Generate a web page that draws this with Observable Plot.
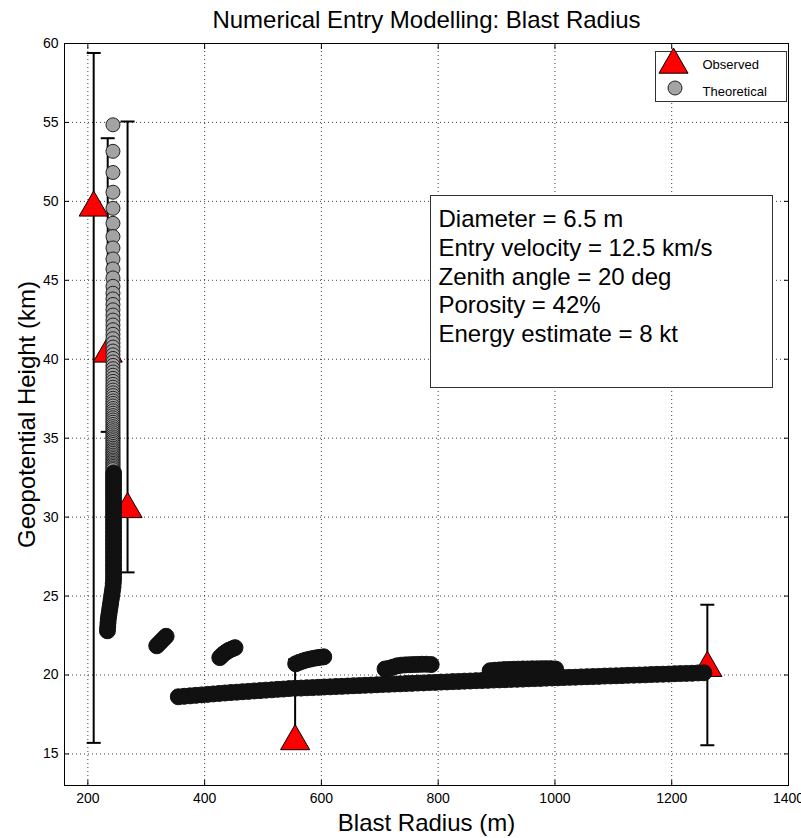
<!DOCTYPE html>
<html>
<head>
<meta charset="utf-8">
<script src="https://cdn.jsdelivr.net/npm/d3@7"></script>
<script src="https://cdn.jsdelivr.net/npm/@observablehq/plot@0.6"></script>
<style>
html, body { margin: 0; padding: 0; background: #fff; }
#chart svg { display: block; }
</style>
</head>
<body>
<div id="chart"></div>
<script>
// ---- texts & ticks ----
const titleText = "Numerical Entry Modelling: Blast Radius";
const xLabel = "Blast Radius (m)";
const yLabel = "Geopotential Height (km)";
const xTicks = [200, 400, 600, 800, 1000, 1200, 1400];
const yTicks = [15, 20, 25, 30, 35, 40, 45, 50, 55, 60];
const legendLabels = ["Observed", "Theoretical"];
const infoLines = [
  "Diameter = 6.5 m",
  "Entry velocity = 12.5 km/s",
  "Zenith angle = 20 deg",
  "Porosity = 42%",
  "Energy estimate = 8 kt"
];

// ---- observed (with asymmetric error bars) ----
const obsX  = [210, 234, 268, 555, 1261];
const obsY  = [49.6, 40.35, 30.5, 15.8, 20.44];
const obsLo = [15.7, 35.4, 26.5, 15.8, 15.55];
const obsHi = [59.4, 54.0, 55.06, 21.0, 24.45];

// ---- theoretical ----
// upper (sparse) part of the column, x = 243 m
const upperColumnX = 243;
const upperColumnY = [54.85, 53.17, 51.83, 50.58, 49.56, 48.61, 47.77, 47.05, 46.35, 45.72,
  45.15, 44.62, 44.18, 43.82, 43.47, 43.13, 42.80, 42.48, 42.17, 41.87, 41.58, 41.30, 41.03,
  40.77, 40.52, 40.28, 40.05, 39.83, 39.61, 39.40, 39.19, 38.99, 38.79, 38.60, 38.41, 38.23,
  38.05, 37.87, 37.70, 37.53, 37.36, 37.20, 37.04, 36.88, 36.73, 36.58, 36.43, 36.29, 36.15,
  36.01, 35.87, 35.73, 35.60, 35.47, 35.34, 35.21, 35.08, 34.96, 34.84, 34.72, 34.60, 34.48,
  34.37, 34.26, 34.15, 34.04, 33.93, 33.82, 33.71, 33.61, 33.51, 33.41, 33.31, 33.21, 33.11, 33.01];
// dense lower part of the column, x = 244 m
const lowerColumnX = 244;
const lowerColumnY = [32.8, 32.55, 32.3, 32.05, 31.8, 31.55, 31.3, 31.05, 30.8, 30.55, 30.3,
  30.05, 29.8, 29.55, 29.3, 29.05, 28.8, 28.55, 28.3, 28.05, 27.8, 27.55, 27.3, 27.05, 26.8,
  26.55, 26.3, 26.05];
const hookX = [243.5, 243, 242, 241, 240, 239, 238, 237, 236, 235, 234.5, 234, 233.5];
const hookY = [25.8, 25.55, 25.3, 25.05, 24.8, 24.55, 24.3, 24.05, 23.8, 23.55, 23.3, 23.05, 22.8];
// detached clusters
const clusterX = [318, 322, 326, 330, 334,
  426, 430, 434, 438, 442, 447, 452,
  556, 562, 568, 574, 580, 586, 592, 598, 604,
  709, 716, 723, 730, 737, 744, 751, 758, 765, 772, 780, 788,
  889, 897, 905, 913, 921, 929, 937, 945, 953, 961, 969, 977, 985, 993, 1001];
const clusterY = [21.85, 22.0, 22.15, 22.3, 22.45,
  21.1, 21.25, 21.38, 21.48, 21.57, 21.65, 21.73,
  20.71, 20.8, 20.88, 20.95, 21.0, 21.05, 21.09, 21.12, 21.15,
  20.38, 20.42, 20.5, 20.58, 20.62, 20.64, 20.65, 20.66, 20.67, 20.68, 20.68, 20.66,
  20.27, 20.3, 20.32, 20.34, 20.35, 20.36, 20.37, 20.38, 20.38, 20.39, 20.39, 20.4, 20.4, 20.4, 20.38];
// long low band
const bandX = [355, 365, 375, 385, 395, 405, 415, 425, 435, 445, 455, 465, 475, 485, 495, 505,
  515, 525, 535, 545, 555, 565, 575, 585, 595, 605, 615, 625, 635, 645, 655, 665, 675, 685, 695,
  705, 715, 725, 735, 745, 755, 765, 775, 785, 795, 805, 815, 825, 835, 845, 855, 865, 875, 885,
  895, 905, 915, 925, 935, 945, 955, 965, 975, 985, 995, 1005, 1015, 1025, 1035, 1045, 1055, 1065,
  1075, 1085, 1095, 1105, 1115, 1125, 1135, 1145, 1155, 1165, 1175, 1185, 1195, 1205, 1215, 1225,
  1235, 1245, 1255];
const bandY = [18.62, 18.65, 18.68, 18.71, 18.74, 18.77, 18.80, 18.83, 18.86, 18.89, 18.91, 18.94,
  18.96, 18.99, 19.01, 19.04, 19.06, 19.09, 19.11, 19.14, 19.16, 19.17, 19.19, 19.20, 19.22, 19.24,
  19.25, 19.27, 19.28, 19.30, 19.32, 19.33, 19.35, 19.36, 19.38, 19.40, 19.41, 19.43, 19.44, 19.46,
  19.47, 19.49, 19.50, 19.52, 19.53, 19.55, 19.56, 19.58, 19.59, 19.61, 19.62, 19.64, 19.65, 19.66,
  19.68, 19.69, 19.70, 19.72, 19.73, 19.74, 19.76, 19.77, 19.78, 19.80, 19.81, 19.82, 19.84, 19.85,
  19.86, 19.88, 19.89, 19.90, 19.91, 19.93, 19.94, 19.95, 19.96, 19.98, 19.99, 20.00, 20.01, 20.03,
  20.04, 20.05, 20.06, 20.08, 20.09, 20.10, 20.11, 20.13, 20.14];

// ---- build tables ----
const observed = obsX.map((x, i) => ({x, y: obsY[i], lo: obsLo[i], hi: obsHi[i]}));
const theoGray = upperColumnY.map(y => ({x: upperColumnX, y}));
const theoDark = [
  ...lowerColumnY.map(y => ({x: lowerColumnX, y})),
  ...hookX.map((x, i) => ({x, y: hookY[i]})),
  ...clusterX.map((x, i) => ({x, y: clusterY[i]})),
  ...bandX.map((x, i) => ({x, y: bandY[i]}))
];

const capSymbol = {
  draw(context, size) {
    const w = Math.sqrt(size / Math.PI);
    context.moveTo(-w, 0);
    context.lineTo(w, 0);
  }
};

const FONT = "'Liberation Sans', Arial, Helvetica, sans-serif";
const gridStyle = {stroke: "#000", strokeOpacity: 0.75, strokeWidth: 1, strokeDasharray: "1,3"};

const chart = Plot.plot({
  width: 801,
  height: 838,
  marginLeft: 64,
  marginRight: 13,
  marginTop: 43,
  marginBottom: 53,
  style: {fontFamily: FONT, background: "#fff", color: "#000"},
  x: {domain: [160, 1400], ticks: xTicks},
  y: {domain: [13, 60], ticks: yTicks},
  marks: [
    Plot.gridX(xTicks, gridStyle),
    Plot.gridY(yTicks, gridStyle),
    Plot.axisX(xTicks, {anchor: "bottom", tickSize: 0, tickPadding: 8, fontSize: 14, tickFormat: d => String(d), label: null}),
    Plot.axisY(yTicks, {anchor: "left", tickSize: 0, tickPadding: 6, fontSize: 14, tickFormat: d => String(d), label: null}),
    Plot.axisX(xTicks, {anchor: "bottom", tickSize: -5, tickFormat: () => "", label: null}),
    Plot.axisX(xTicks, {anchor: "top", tickSize: -5, tickFormat: () => "", label: null}),
    Plot.axisY(yTicks, {anchor: "left", tickSize: -5, tickFormat: () => "", label: null}),
    Plot.axisY(yTicks, {anchor: "right", tickSize: -5, tickFormat: () => "", label: null}),
    // error bars
    Plot.ruleX(observed, {x: "x", y1: "lo", y2: "hi", stroke: "#000", strokeWidth: 2}),
    Plot.dot(observed, {x: "x", y: "lo", symbol: capSymbol, r: 7, fill: "none", stroke: "#000", strokeWidth: 2}),
    Plot.dot(observed, {x: "x", y: "hi", symbol: capSymbol, r: 7, fill: "none", stroke: "#000", strokeWidth: 2}),
    // observed triangles
    Plot.dot(observed, {x: "x", y: "y", symbol: "triangle", r: 10.8, fill: "#ff0000", stroke: "#000", strokeWidth: 1}),
    // theoretical
    Plot.dot(theoGray, {x: "x", y: "y", r: 7, fill: "#a3a3a3", stroke: "#222", strokeWidth: 1}),
    Plot.dot(theoDark, {x: "x", y: "y", r: 8, fill: "#111", stroke: "#111", strokeWidth: 1}),
    // frame
    Plot.frame({stroke: "#000", strokeWidth: 1}),
    // info box
    Plot.frame({insetLeft: 366, insetRight: 16, insetTop: 152, insetBottom: 398, fill: "#fff", stroke: "#333", strokeWidth: 1}),
    Plot.text([infoLines.join("\n")], {frameAnchor: "top-left", dx: 374, dy: 163, textAnchor: "start", lineAnchor: "top", lineHeight: 1.2, fontSize: 24, fill: "#000"}),
    // legend
    Plot.frame({insetLeft: 591, insetRight: 2, insetTop: 8, insetBottom: 684, fill: "#fff", stroke: "#333", strokeWidth: 1}),
    Plot.dot([legendLabels[0]], {frameAnchor: "top-left", dx: 609, dy: 21.3, symbol: "triangle", r: 10.8, fill: "#ff0000", stroke: "#000", strokeWidth: 1}),
    Plot.dot([legendLabels[1]], {frameAnchor: "top-left", dx: 610.5, dy: 44.5, r: 7, fill: "#a3a3a3", stroke: "#222", strokeWidth: 1}),
    Plot.text([legendLabels[0]], {frameAnchor: "top-left", dx: 638, dy: 25, text: d => d, textAnchor: "start", lineAnchor: "bottom", fontSize: 13, fill: "#000"}),
    Plot.text([legendLabels[1]], {frameAnchor: "top-left", dx: 638, dy: 52, text: d => d, textAnchor: "start", lineAnchor: "bottom", fontSize: 13, fill: "#000"}),
    // title and axis labels
    Plot.text([titleText], {frameAnchor: "top", dy: -16, textAnchor: "middle", lineAnchor: "bottom", fontSize: 24, fill: "#000"}),
    Plot.text([xLabel], {frameAnchor: "bottom", dy: 45, textAnchor: "middle", lineAnchor: "bottom", fontSize: 24, fill: "#000"}),
    Plot.text([yLabel], {frameAnchor: "left", dx: -30, rotate: -90, textAnchor: "middle", lineAnchor: "bottom", fontSize: 24, fill: "#000"})
  ]
});
document.getElementById("chart").appendChild(chart);
</script>
</body>
</html>
